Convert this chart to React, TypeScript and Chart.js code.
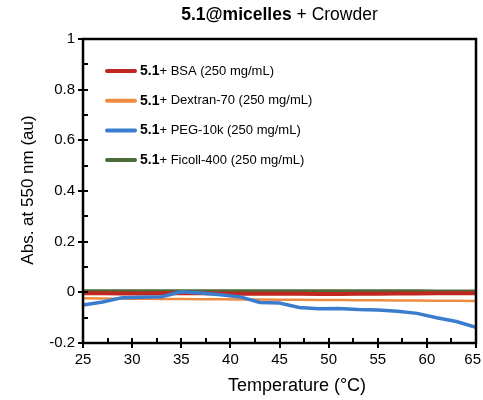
import React, { useEffect, useRef } from "react";
import { Chart, registerables } from "chart.js";

Chart.register(...registerables);

// Temperatures (°C) at which absorbance was recorded
const temperatures = [25, 27, 29, 31, 33, 35, 37, 39, 41, 43, 45, 47, 49, 51, 53, 55, 57, 59, 61, 63, 65];

// Absorbance at 550 nm for 5.1@micelles with each crowder
const bsa = [-0.004, -0.004, -0.005, -0.005, -0.004, -0.003, -0.004, -0.005, -0.006, -0.006, -0.006, -0.006, -0.007, -0.007, -0.006, -0.006, -0.005, -0.005, -0.004, -0.004, -0.004];
const dextran = [-0.023, -0.024, -0.025, -0.025, -0.026, -0.026, -0.027, -0.027, -0.028, -0.028, -0.029, -0.029, -0.030, -0.030, -0.031, -0.031, -0.032, -0.032, -0.033, -0.033, -0.034];
const peg = [-0.05, -0.038, -0.021, -0.019, -0.017, 0.002, -0.003, -0.01, -0.018, -0.04, -0.042, -0.06, -0.065, -0.064, -0.068, -0.07, -0.075, -0.083, -0.1, -0.115, -0.138];
const ficoll = [0.006, 0.006, 0.006, 0.006, 0.006, 0.006, 0.006, 0.006, 0.006, 0.006, 0.006, 0.006, 0.006, 0.006, 0.006, 0.006, 0.006, 0.006, 0.005, 0.005, 0.005];

const seriesNames = ["BSA (250 mg/mL)", "Dextran-70 (250 mg/mL)", "PEG-10k (250 mg/mL)", "Ficoll-400 (250 mg/mL)"];
const seriesColors = ["#C0281F", "#EE8B42", "#3A7DCE", "#4D6B38"];
const compoundLabel = "5.1";

const FONT = "'Liberation Sans', Arial, Helvetica, sans-serif";

const decorPlugin = {
  id: "decor",
  afterDraw(chart: any) {
    const { ctx, chartArea, width } = chart;
    const { left, right, top, bottom } = chartArea;
    const xs = chart.scales.x;
    const ys = chart.scales.y;
    ctx.save();

    // frame
    ctx.strokeStyle = "#000";
    ctx.lineWidth = 2.5;
    ctx.strokeRect(left, top, right - left, bottom - top);

    // y ticks: majors cross the axis, minors point inward
    ctx.lineWidth = 2;
    ctx.beginPath();
    for (let v = -0.2; v <= 1.0001; v += 0.1) {
      const y = Math.round(ys.getPixelForValue(v));
      const major = Math.round(v * 10) % 2 === 0;
      ctx.moveTo(major ? left - 5 : left, y);
      ctx.lineTo(left + 5, y);
    }
    // x ticks
    for (let t = 25; t <= 65.001; t += 2.5) {
      const x = Math.round(xs.getPixelForValue(t));
      const major = Math.abs(t % 5) < 0.01;
      ctx.moveTo(x, bottom - 5);
      ctx.lineTo(x, major ? bottom + 5 : bottom);
    }
    ctx.stroke();

    // x tick labels, kept inside the canvas at the right edge
    ctx.fillStyle = "#000";
    ctx.font = `15px ${FONT}`;
    ctx.textAlign = "center";
    ctx.textBaseline = "middle";
    xs.ticks.forEach((tk: any) => {
      const label = String(tk.value);
      const w = ctx.measureText(label).width;
      let x = xs.getPixelForValue(tk.value);
      x = Math.min(x, width - 2 - w / 2);
      ctx.fillText(label, x, bottom + 17);
    });

    // title
    ctx.textBaseline = "alphabetic";
    const boldPart = "5.1@micelles";
    const plainPart = " + Crowder";
    ctx.font = `bold 17.5px ${FONT}`;
    const wb = ctx.measureText(boldPart).width;
    ctx.font = `17.5px ${FONT}`;
    const wp = ctx.measureText(plainPart).width;
    const tx = (left + right) / 2 - (wb + wp) / 2;
    ctx.font = `bold 17.5px ${FONT}`;
    ctx.textAlign = "left";
    ctx.fillText(boldPart, tx, 20);
    ctx.font = `17.5px ${FONT}`;
    ctx.fillText(plainPart, tx + wb, 20);

    // axis titles
    ctx.textAlign = "center";
    ctx.textBaseline = "middle";
    ctx.font = `18px ${FONT}`;
    ctx.fillText("Temperature (°C)", 297, 386);
    ctx.save();
    ctx.translate(28, 190);
    ctx.rotate(-Math.PI / 2);
    ctx.font = `17px ${FONT}`;
    ctx.fillText("Abs. at 550 nm (au)", 0, 0);
    ctx.restore();

    // legend
    const rowsY = [71, 100.7, 130.4, 160];
    ctx.textAlign = "left";
    chart.data.datasets.forEach((ds: any, i: number) => {
      const y = rowsY[i];
      ctx.strokeStyle = ds.borderColor;
      ctx.lineWidth = 4;
      ctx.lineCap = "round";
      ctx.beginPath();
      ctx.moveTo(107, y);
      ctx.lineTo(135, y);
      ctx.stroke();
      ctx.fillStyle = "#000";
      ctx.font = `bold 14px ${FONT}`;
      ctx.fillText(compoundLabel, 140, y);
      const w = ctx.measureText(compoundLabel).width;
      ctx.font = `13px ${FONT}`;
      ctx.fillText("+ " + seriesNames[i], 140 + w, y);
    });

    ctx.restore();
  },
};

export default function App() {
  const canvasRef = useRef<HTMLCanvasElement | null>(null);

  useEffect(() => {
    if (!canvasRef.current) return;
    const seriesValues = [bsa, dextran, peg, ficoll];
    const widths = [4, 2.5, 3.5, 3];
    // PEG trace sits on top of the others
    const drawOrder = [1, 1, 0, 1];
    const chart = new Chart(canvasRef.current, {
      type: "line",
      data: {
        datasets: seriesValues.map((vals, i) => ({
          label: `${compoundLabel}+ ${seriesNames[i]}`,
          data: temperatures.map((t, k) => ({ x: t, y: vals[k] })),
          borderColor: seriesColors[i],
          backgroundColor: seriesColors[i],
          borderWidth: widths[i],
          pointRadius: 0,
          tension: 0,
          fill: false,
          order: drawOrder[i],
        })),
      },
      options: {
        responsive: false,
        animation: false,
        devicePixelRatio: 1,
        layout: { padding: { top: 39, right: 7, left: 0, bottom: 0 } },
        plugins: {
          legend: { display: false },
          title: { display: false },
          tooltip: { enabled: false },
        },
        scales: {
          x: {
            type: "linear",
            min: 25,
            max: 65,
            grid: { display: false, drawTicks: false },
            border: { display: false },
            ticks: {
              stepSize: 5,
              display: false,
            },
            afterFit(scale: any) {
              scale.height = 57;
              scale.paddingLeft = 0;
              scale.paddingRight = 0;
            },
          },
          y: {
            type: "linear",
            min: -0.2,
            max: 1,
            grid: { display: false, drawTicks: false },
            border: { display: false },
            ticks: {
              stepSize: 0.2,
              padding: 8,
              color: "#000",
              font: { family: FONT, size: 15 },
              callback: (v: any) => String(Math.round(Number(v) * 10) / 10),
            },
            afterFit(scale: any) {
              scale.width = 83;
              scale.paddingTop = 0;
              scale.paddingBottom = 0;
            },
          },
        },
      },
      plugins: [decorPlugin],
    });
    return () => chart.destroy();
  }, []);

  return (
    <div style={{ position: "absolute", left: 0, top: 0, width: 483, height: 400, background: "#fff" }}>
      <canvas ref={canvasRef} width={483} height={400} style={{ display: "block" }} />
    </div>
  );
}
